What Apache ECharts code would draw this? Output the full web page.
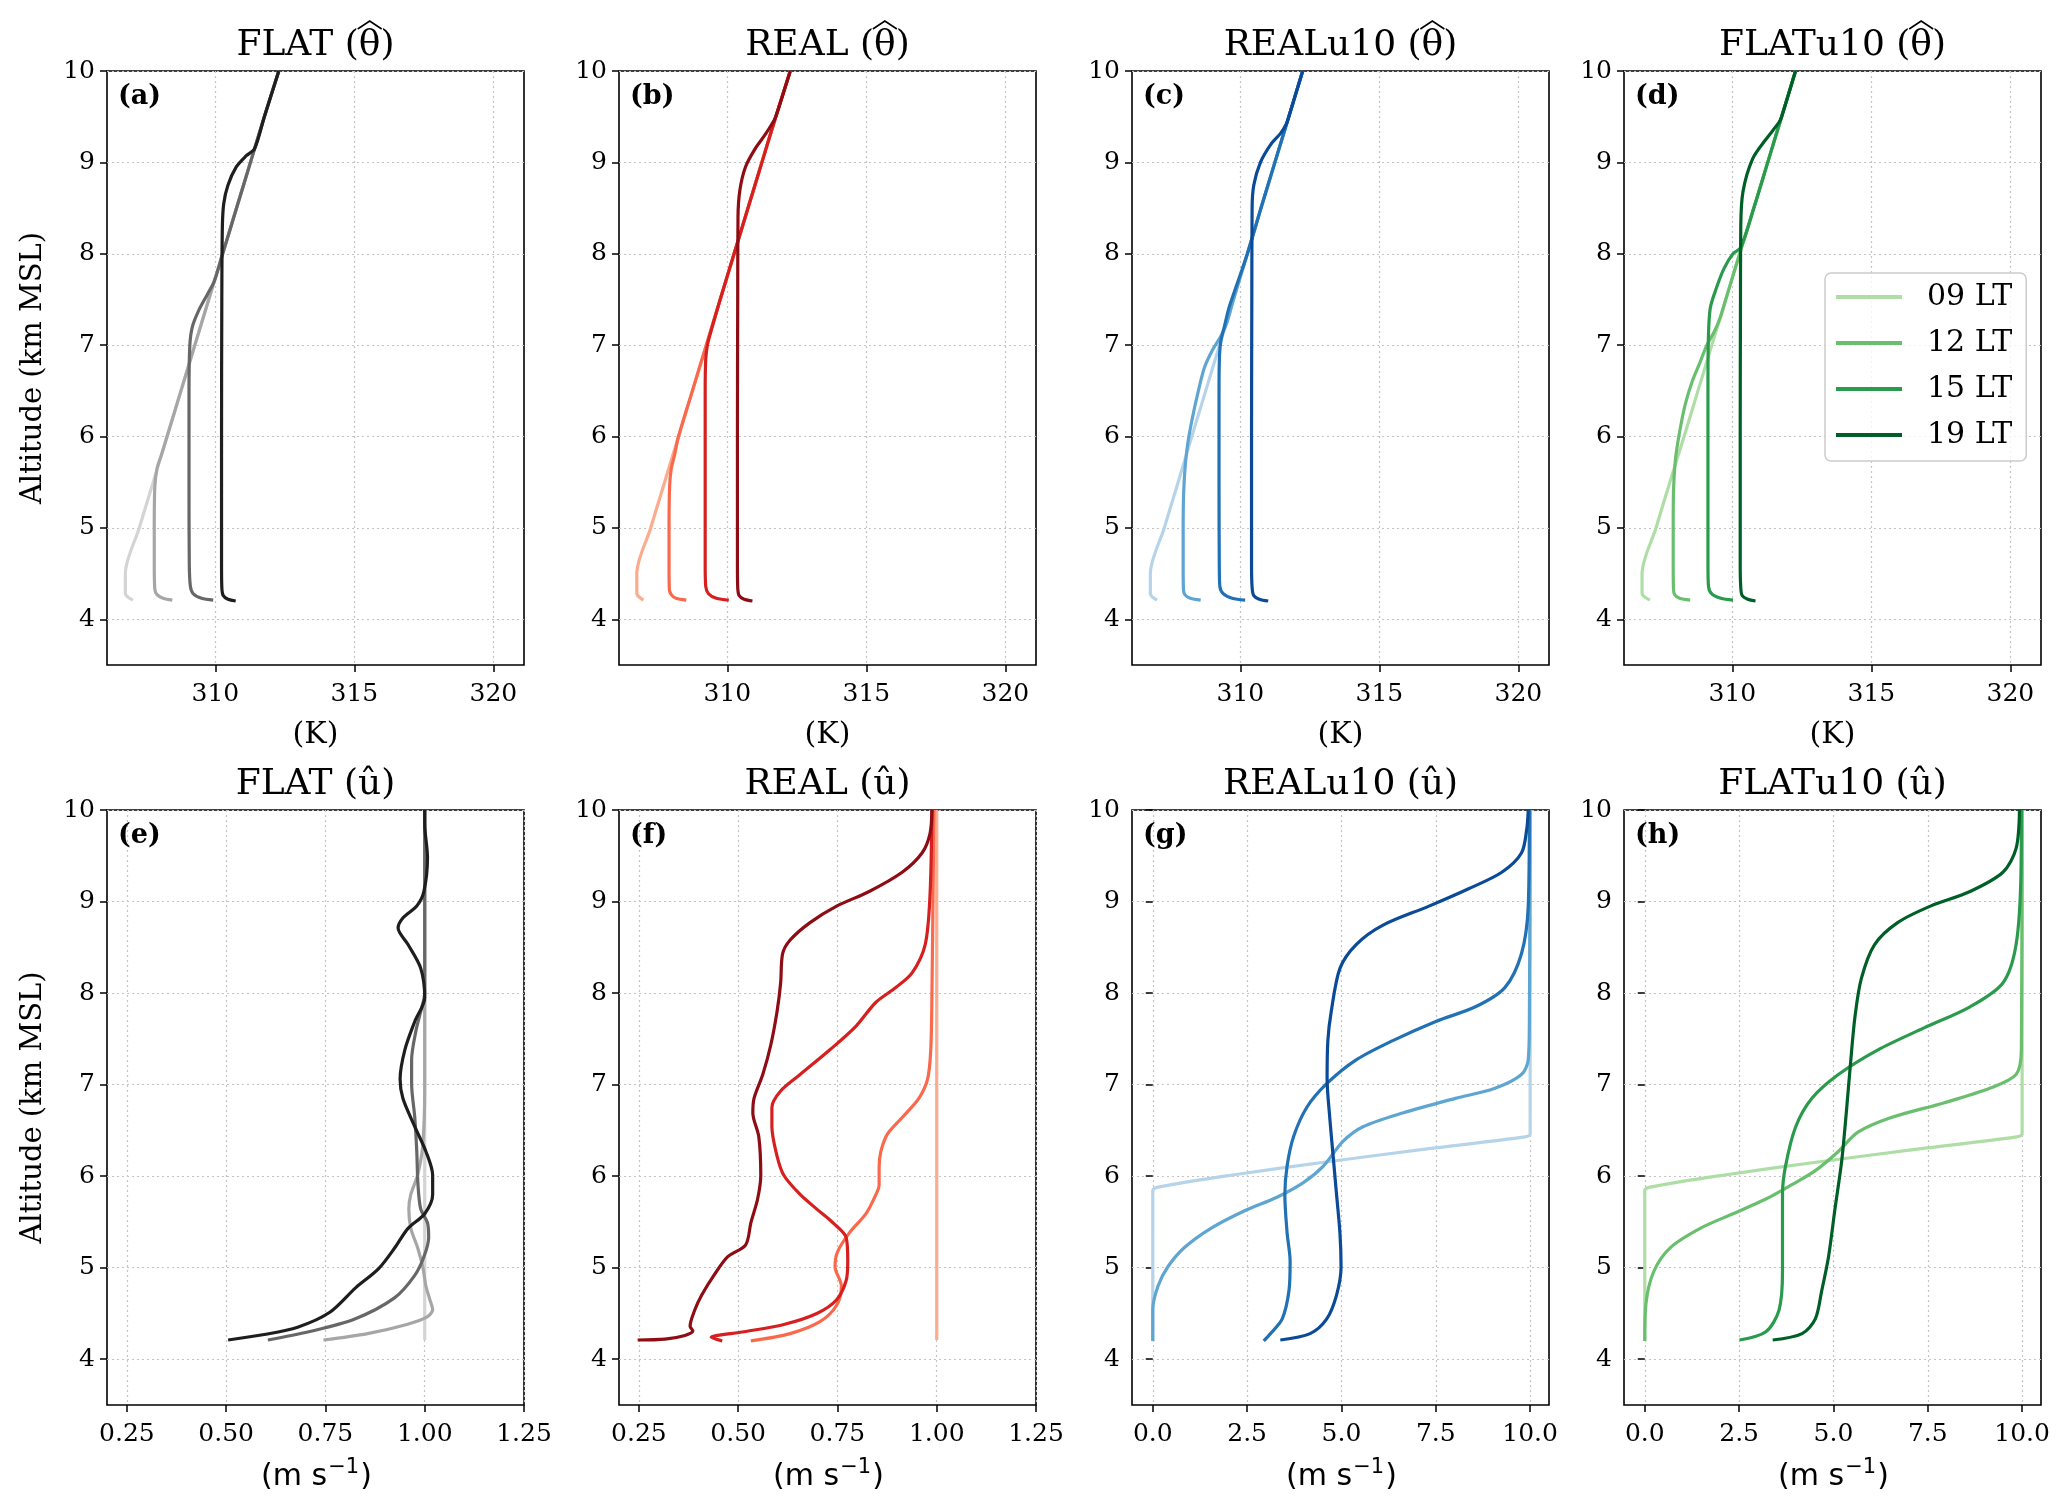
<!DOCTYPE html>
<html>
<head>
<meta charset="utf-8">
<script src="https://cdn.jsdelivr.net/npm/echarts@6/dist/echarts.min.js"></script>
<style>
html,body{margin:0;padding:0;background:#fff;}
#chart{width:2067px;height:1506px;}
</style>
</head>
<body>
<div id="chart"></div>
<script>
// ---------------- DATA ----------------
const timeLabels = ['09 LT', '12 LT', '15 LT', '19 LT'];
const caseNames = ['FLAT', 'REAL', 'REALu10', 'FLATu10'];
const topSymbol = 'θ';     // drawn with a hat: potential temperature perturbation
const bottomSymbol = 'û';
const panelLetters = ['(a)', '(b)', '(c)', '(d)', '(e)', '(f)', '(g)', '(h)'];
const altTicks = [4, 5, 6, 7, 8, 9, 10];
const thetaTicks = [310, 315, 320];
const uSmallTicks = [0.25, 0.5, 0.75, 1.0, 1.25];
const uLargeTicks = [0, 2.5, 5, 7.5, 10];

// (a) FLAT theta  [K, km]
const flatTh09 = [[307.03,4.21],[306.86,4.24],[306.76,4.28],[306.76,4.5],[307.26,5.0],[307.76,5.5],[308.26,6.0],[308.76,6.5],[309.26,7.0],[309.76,7.5],[310.26,8.0],[310.76,8.5],[311.26,9.0],[311.76,9.5],[312.28,10.0]];
const flatTh12 = [[308.45,4.21],[308.12,4.23],[307.9,4.27],[307.82,4.33],[307.8,4.6],[307.8,5.0],[307.82,5.45],[307.9,5.65],[308.06,5.8],[308.26,6.0],[308.76,6.5],[309.26,7.0],[309.76,7.5],[310.26,8.0],[310.76,8.5],[311.26,9.0],[311.76,9.5],[312.28,10.0]];
const flatTh15 = [[309.92,4.21],[309.5,4.23],[309.2,4.28],[309.1,4.36],[309.06,4.6],[309.05,5.5],[309.05,6.5],[309.08,7.0],[309.17,7.2],[309.4,7.38],[309.7,7.55],[309.96,7.7],[310.26,8.0],[310.76,8.5],[311.26,9.0],[311.76,9.5],[312.28,10.0]];
const flatTh19 = [[310.73,4.2],[310.45,4.22],[310.28,4.26],[310.23,4.35],[310.22,4.6],[310.22,6.0],[310.23,7.5],[310.25,8.3],[310.3,8.55],[310.45,8.75],[310.75,8.95],[311.1,9.07],[311.41,9.15],[311.76,9.5],[312.28,10.0]];
// (b) REAL theta
const realTh09 = [[306.98,4.21],[306.84,4.24],[306.74,4.28],[306.74,4.5],[307.24,5.0],[307.74,5.5],[308.24,6.0],[308.74,6.5],[309.24,7.0],[309.74,7.5],[310.24,8.0],[310.74,8.5],[311.24,9.0],[311.74,9.5],[312.26,10.0]];
const realTh12 = [[308.52,4.21],[308.15,4.23],[307.98,4.27],[307.91,4.33],[307.9,4.6],[307.9,5.0],[307.92,5.45],[307.98,5.65],[308.1,5.8],[308.24,6.0],[308.74,6.5],[309.24,7.0],[309.74,7.5],[310.24,8.0],[310.74,8.5],[311.24,9.0],[311.74,9.5],[312.26,10.0]];
const realTh15 = [[310.05,4.21],[309.6,4.23],[309.32,4.28],[309.22,4.36],[309.2,4.6],[309.2,5.5],[309.2,6.5],[309.22,6.85],[309.28,7.0],[309.36,7.1],[309.74,7.5],[310.24,8.0],[310.74,8.5],[311.24,9.0],[311.74,9.5],[312.26,10.0]];
const realTh19 = [[310.9,4.2],[310.6,4.22],[310.42,4.26],[310.37,4.35],[310.36,4.6],[310.36,6.0],[310.37,7.5],[310.38,8.4],[310.45,8.7],[310.65,8.95],[311.0,9.15],[311.35,9.3],[311.6,9.42],[311.74,9.5],[312.26,10.0]];
// (c) REALu10 theta
const ru10Th09 = [[307.0,4.21],[306.85,4.24],[306.76,4.28],[306.76,4.5],[307.26,5.0],[307.76,5.5],[308.25,6.0],[308.75,6.5],[309.25,7.0],[309.75,7.5],[310.25,8.0],[310.74,8.5],[311.24,9.0],[311.74,9.5],[312.24,10.0]];
const ru10Th12 = [[308.57,4.21],[308.2,4.23],[308.0,4.27],[307.95,4.33],[307.94,4.6],[307.94,5.0],[307.96,5.4],[308.02,5.7],[308.12,5.95],[308.27,6.2],[308.45,6.45],[308.7,6.75],[309.0,6.95],[309.3,7.1],[309.52,7.25],[309.75,7.5],[310.25,8.0],[310.74,8.5],[311.24,9.0],[311.74,9.5],[312.24,10.0]];
const ru10Th15 = [[310.17,4.21],[309.7,4.23],[309.38,4.28],[309.26,4.36],[309.24,4.6],[309.23,5.5],[309.23,6.5],[309.25,6.9],[309.3,7.05],[309.42,7.2],[309.58,7.4],[309.8,7.6],[310.05,7.82],[310.25,8.0],[310.74,8.5],[311.24,9.0],[311.74,9.5],[312.24,10.0]];
const ru10Th19 = [[311.0,4.2],[310.68,4.22],[310.48,4.26],[310.42,4.35],[310.4,4.6],[310.4,6.0],[310.41,7.5],[310.42,8.5],[310.48,8.75],[310.72,9.0],[311.1,9.2],[311.45,9.32],[311.65,9.42],[311.74,9.5],[312.24,10.0]];
// (d) FLATu10 theta
const fu10Th09 = [[307.03,4.21],[306.86,4.24],[306.75,4.28],[306.75,4.5],[307.25,5.0],[307.75,5.5],[308.26,6.0],[308.76,6.5],[309.26,7.0],[309.76,7.5],[310.26,8.0],[310.77,8.5],[311.27,9.0],[311.77,9.5],[312.27,10.0]];
const fu10Th12 = [[308.48,4.21],[308.1,4.23],[307.92,4.27],[307.88,4.33],[307.87,4.6],[307.87,5.0],[307.88,5.4],[307.95,5.75],[308.1,6.05],[308.3,6.35],[308.55,6.6],[308.82,6.8],[309.08,7.0],[309.35,7.15],[309.56,7.3],[309.76,7.5],[310.26,8.0],[310.77,8.5],[311.27,9.0],[311.77,9.5],[312.27,10.0]];
const fu10Th15 = [[310.02,4.21],[309.58,4.23],[309.25,4.28],[309.14,4.36],[309.12,4.6],[309.12,5.5],[309.12,6.5],[309.13,7.0],[309.2,7.4],[309.43,7.63],[309.7,7.84],[310.02,8.0],[310.3,8.07],[310.77,8.5],[311.27,9.0],[311.77,9.5],[312.27,10.0]];
const fu10Th19 = [[310.83,4.2],[310.55,4.22],[310.35,4.26],[310.3,4.35],[310.28,4.6],[310.28,6.0],[310.29,7.5],[310.3,8.3],[310.38,8.68],[310.73,9.04],[311.2,9.25],[311.68,9.44],[311.77,9.5],[312.27,10.0]];

// (e) FLAT u  [m/s, km]
const flatU09 = [[1.0,4.21],[1.0,10.0]];
const flatU12 = [[0.745,4.21],[0.856,4.28],[0.955,4.38],[1.005,4.46],[1.02,4.54],[1.013,4.65],[1.003,4.8],[0.995,5.01],[0.982,5.22],[0.965,5.43],[0.96,5.64],[0.965,5.8],[0.982,6.01],[0.995,6.33],[1.0,6.96],[1.0,10.0]];
const flatU15 = [[0.605,4.21],[0.708,4.3],[0.824,4.44],[0.924,4.67],[0.974,4.91],[0.998,5.12],[1.01,5.33],[1.007,5.49],[0.99,5.64],[0.983,5.91],[0.98,6.27],[0.975,6.64],[0.967,7.01],[0.967,7.27],[0.978,7.59],[0.99,7.8],[1.0,8.0],[1.0,9.05],[1.0,10.0]];
const flatU19 = [[0.505,4.21],[0.596,4.27],[0.68,4.35],[0.76,4.51],[0.826,4.78],[0.884,4.99],[0.925,5.22],[0.958,5.43],[1.0,5.59],[1.02,5.8],[1.02,6.01],[1.003,6.27],[0.975,6.54],[0.945,6.85],[0.938,7.06],[0.95,7.38],[0.975,7.69],[1.0,7.95],[0.99,8.27],[0.958,8.53],[0.933,8.71],[0.945,8.82],[0.98,8.95],[0.998,9.11],[1.007,9.48],[1.0,9.85],[1.0,10.0]];
// (f) REAL u
const realU09 = [[1.0,4.21],[1.0,10.0]];
const realU12 = [[0.532,4.2],[0.631,4.28],[0.706,4.41],[0.748,4.59],[0.76,4.8],[0.744,5.01],[0.75,5.17],[0.78,5.38],[0.822,5.59],[0.847,5.8],[0.855,5.9],[0.855,6.1],[0.872,6.43],[0.913,6.64],[0.955,6.85],[0.977,7.06],[0.985,7.38],[0.988,8.0],[0.993,10.0]];
const realU15 = [[0.46,4.2],[0.432,4.24],[0.515,4.3],[0.615,4.38],[0.698,4.5],[0.748,4.65],[0.772,4.86],[0.776,5.07],[0.772,5.33],[0.739,5.49],[0.698,5.64],[0.656,5.8],[0.615,6.01],[0.598,6.22],[0.585,6.54],[0.585,6.75],[0.607,6.93],[0.656,7.11],[0.731,7.38],[0.797,7.64],[0.847,7.9],[0.897,8.06],[0.938,8.22],[0.971,8.53],[0.983,9.06],[0.988,10.0]];
const realU19 = [[0.247,4.21],[0.316,4.22],[0.366,4.26],[0.386,4.31],[0.379,4.36],[0.391,4.54],[0.408,4.7],[0.441,4.93],[0.474,5.12],[0.519,5.25],[0.532,5.49],[0.549,5.75],[0.557,6.01],[0.552,6.43],[0.537,6.69],[0.54,6.85],[0.562,7.11],[0.582,7.43],[0.598,7.8],[0.607,8.11],[0.612,8.43],[0.631,8.58],[0.681,8.77],[0.748,8.95],[0.83,9.11],[0.913,9.32],[0.963,9.53],[0.983,9.74],[0.988,10.0]];
// (g) REALu10 u
const ru10U09 = [[0.0,4.2],[0.0,5.84],[0.14,5.88],[2.07,6.01],[4.69,6.16],[7.32,6.3],[9.86,6.43],[10.0,6.46],[10.0,10.0]];
const ru10U12 = [[0.0,4.2],[0.0,4.54],[0.14,4.8],[0.4,5.01],[0.84,5.22],[1.54,5.43],[2.42,5.62],[3.29,5.77],[3.99,5.93],[4.52,6.11],[5.04,6.38],[5.57,6.54],[6.62,6.69],[8.02,6.85],[9.07,6.96],[9.77,7.11],[9.95,7.27],[9.98,7.69],[10.0,10.0]];
const ru10U15 = [[2.94,4.2],[3.12,4.28],[3.43,4.44],[3.61,4.75],[3.64,5.07],[3.56,5.38],[3.5,5.8],[3.56,6.11],[3.73,6.43],[4.08,6.75],[4.61,7.01],[5.39,7.27],[6.36,7.48],[7.5,7.69],[8.55,7.85],[9.33,8.06],[9.77,8.43],[9.95,8.95],[9.98,10.0]];
const ru10U19 = [[3.38,4.21],[4.17,4.28],[4.61,4.44],[4.87,4.7],[4.99,5.01],[4.96,5.38],[4.87,5.8],[4.78,6.22],[4.69,6.64],[4.62,7.06],[4.64,7.48],[4.73,7.8],[4.96,8.27],[5.39,8.53],[6.09,8.74],[7.32,8.95],[8.37,9.14],[9.25,9.32],[9.77,9.53],[9.91,9.79],[9.95,10.0]];
// (h) FLATu10 u
const fu10U09 = [[0.0,4.2],[0.0,5.84],[0.14,5.88],[2.07,6.01],[4.69,6.16],[7.32,6.3],[9.86,6.43],[10.0,6.46],[10.0,10.0]];
const fu10U12 = [[0.0,4.2],[0.03,4.6],[0.24,4.96],[0.68,5.22],[1.47,5.43],[2.34,5.59],[3.21,5.75],[3.91,5.91],[4.52,6.06],[5.13,6.27],[5.65,6.48],[6.53,6.64],[7.92,6.8],[9.14,6.96],[9.84,7.11],[9.98,7.38],[10.0,10.0]];
const fu10U15 = [[2.51,4.21],[3.21,4.3],[3.56,4.54],[3.65,4.96],[3.65,5.8],[3.73,6.11],[4.0,6.54],[4.43,6.85],[5.13,7.11],[6.18,7.38],[7.4,7.62],[8.62,7.85],[9.49,8.11],[9.84,8.53],[9.97,9.32],[9.98,10.0]];
const fu10U19 = [[3.39,4.21],[4.17,4.28],[4.52,4.44],[4.69,4.75],[4.87,5.12],[5.04,5.64],[5.22,6.17],[5.34,6.69],[5.45,7.22],[5.57,7.74],[5.74,8.16],[6.09,8.53],[6.7,8.77],[7.57,8.95],[8.62,9.11],[9.49,9.32],[9.84,9.58],[9.93,10.0]];

// ---------------- STYLE / LAYOUT ----------------
const greys  = ['#d4d4d4', '#a6a6a6', '#676767', '#1e1e1e'];
const reds   = ['#fcab8f', '#f9694c', '#d6201f', '#8e0c13'];
const blues  = ['#b6d4e9', '#5ea5d1', '#2171b5', '#0a4a97'];
const greens = ['#aedea6', '#69bf6e', '#2a9a4d', '#005f26'];

const SERIF = 'DejaVu Serif';
const SANS = 'DejaVu Sans';
const colLeft = [107, 619, 1132, 1624];
const colWidth = 417;
const rowTop = [71, 810];
const rowHeight = [594, 595];
const titleY = [46, 785];

const measureCtx = document.createElement('canvas').getContext('2d');
function textWidth(str, font) { measureCtx.font = font; return measureCtx.measureText(str).width; }

const panels = [
  {curves: [flatTh09, flatTh12, flatTh15, flatTh19], colors: greys,  row: 0, col: 0, xMin: 306.1, xMax: 321.1, ticks: thetaTicks, fmt: v => String(v)},
  {curves: [realTh09, realTh12, realTh15, realTh19], colors: reds,   row: 0, col: 1, xMin: 306.1, xMax: 321.1, ticks: thetaTicks, fmt: v => String(v)},
  {curves: [ru10Th09, ru10Th12, ru10Th15, ru10Th19], colors: blues,  row: 0, col: 2, xMin: 306.1, xMax: 321.1, ticks: thetaTicks, fmt: v => String(v)},
  {curves: [fu10Th09, fu10Th12, fu10Th15, fu10Th19], colors: greens, row: 0, col: 3, xMin: 306.1, xMax: 321.1, ticks: thetaTicks, fmt: v => String(v), legend: true},
  {curves: [flatU09, flatU12, flatU15, flatU19], colors: greys,  row: 1, col: 0, xMin: 0.2, xMax: 1.25, ticks: uSmallTicks, fmt: v => v.toFixed(2)},
  {curves: [realU09, realU12, realU15, realU19], colors: reds,   row: 1, col: 1, xMin: 0.2, xMax: 1.25, ticks: uSmallTicks, fmt: v => v.toFixed(2)},
  {curves: [ru10U09, ru10U12, ru10U15, ru10U19], colors: blues,  row: 1, col: 2, xMin: -0.55, xMax: 10.5, ticks: uLargeTicks, fmt: v => v.toFixed(1)},
  {curves: [fu10U09, fu10U12, fu10U15, fu10U19], colors: greens, row: 1, col: 3, xMin: -0.55, xMax: 10.5, ticks: uLargeTicks, fmt: v => v.toFixed(1)}
];

const grids = [], xAxes = [], yAxes = [], series = [], graphics = [];
const gridLine = {show: true, lineStyle: {type: [2, 3], color: '#c4c4c4', width: 1.2}};
const tickStyle = {show: true, inside: false, length: 7, lineStyle: {color: '#000', width: 1.5}};
const titleFont = '36px "' + SERIF + '"';
const unitFont = '30px "' + SANS + '"';
const supFont = '21px "' + SANS + '"';

panels.forEach((p, i) => {
  const left = colLeft[p.col], top = rowTop[p.row], h = rowHeight[p.row];
  grids.push({left: left, top: top, width: colWidth, height: h, show: true,
    borderColor: '#000', borderWidth: 1.6, backgroundColor: 'transparent', containLabel: false});
  xAxes.push({type: 'value', gridIndex: i, min: p.xMin, max: p.xMax,
    axisLine: {show: false},
    axisTick: Object.assign({customValues: p.ticks}, tickStyle),
    axisLabel: {customValues: p.ticks, formatter: p.fmt, fontFamily: SERIF, fontSize: 25, color: '#000', margin: 17},
    splitLine: gridLine});
  yAxes.push({type: 'value', gridIndex: i, min: 3.5, max: 10,
    axisLine: {show: false},
    axisTick: Object.assign({customValues: altTicks}, tickStyle),
    axisLabel: {customValues: altTicks, formatter: v => String(v), fontFamily: SERIF, fontSize: 25, color: '#000', margin: 12},
    splitLine: gridLine});
  p.curves.forEach((c, k) => {
    series.push({
      name: p.legend ? timeLabels[k] : panelLetters[i] + ' ' + timeLabels[k],
      type: 'line', xAxisIndex: i, yAxisIndex: i, data: c,
      showSymbol: false, symbol: 'none', smooth: 0.3, clip: true,
      itemStyle: {color: p.colors[k]},
      lineStyle: {color: p.colors[k], width: 3.2},
      z: 3 + k, animation: false
    });
  });
  const cx = left + colWidth / 2;
  const ty = titleY[p.row];
  // title
  const sym = p.row === 0 ? topSymbol : bottomSymbol;
  const pre = caseNames[p.col] + ' (';
  const full = pre + sym + ')';
  graphics.push({type: 'text', x: cx, y: ty,
    style: {text: full, font: titleFont, fill: '#000', textAlign: 'center', textVerticalAlign: 'middle'}});
  if (p.row === 0) {
    const wFull = textWidth(full, titleFont), wPre = textWidth(pre, titleFont), wSym = textWidth(sym, titleFont);
    const hx = cx - wFull / 2 + wPre + wSym / 2;
    graphics.push({type: 'polyline', shape: {points: [[hx - 12, ty - 17], [hx, ty - 25], [hx + 12, ty - 17]]},
      style: {stroke: '#000', lineWidth: 1.6, fill: null}});
  }
  // panel letter
  graphics.push({type: 'text', x: left + 11, y: top + 26,
    style: {text: panelLetters[i], font: 'bold 27px "' + SERIF + '"', fill: '#000', textAlign: 'left', textVerticalAlign: 'middle'}, z: 10});
  // axis unit label
  if (p.row === 0) {
    graphics.push({type: 'text', x: cx, y: 735,
      style: {text: '(K)', font: '30px "' + SERIF + '"', fill: '#000', textAlign: 'center', textVerticalAlign: 'middle'}});
  } else {
    const a = '(m s', b = '−1', c = ')';
    const wa = textWidth(a, unitFont), wb = textWidth(b, supFont), wc = textWidth(c, unitFont);
    const x0 = cx - (wa + wb + wc) / 2, uy = 1477;
    graphics.push({type: 'text', x: x0, y: uy, style: {text: a, font: unitFont, fill: '#000', textAlign: 'left', textVerticalAlign: 'middle'}});
    graphics.push({type: 'text', x: x0 + wa + 1, y: uy - 9, style: {text: b, font: supFont, fill: '#000', textAlign: 'left', textVerticalAlign: 'middle'}});
    graphics.push({type: 'text', x: x0 + wa + wb + 2, y: uy, style: {text: c, font: unitFont, fill: '#000', textAlign: 'left', textVerticalAlign: 'middle'}});
  }
  if (p.col === 0) {
    graphics.push({type: 'text', x: 33, y: top + h / 2, rotation: Math.PI / 2,
      style: {text: 'Altitude (km MSL)', font: '29px "' + SERIF + '"', fill: '#000', textAlign: 'center', textVerticalAlign: 'middle'}});
  }
});

const chart = echarts.init(document.getElementById('chart'), null, {renderer: 'canvas'});
chart.setOption({
  backgroundColor: '#fff',
  animation: false,
  grid: grids, xAxis: xAxes, yAxis: yAxes, series: series, graphic: graphics,
  legend: {show: true, left: 1825, top: 273, orient: 'vertical', data: timeLabels,
    icon: 'rect', itemWidth: 66, itemHeight: 4, itemGap: 10, selectedMode: false,
    textStyle: {fontFamily: SERIF, fontSize: 30, color: '#000', lineHeight: 36, padding: [0, 0, 0, 20]},
    backgroundColor: 'rgba(255,255,255,0.8)', borderColor: '#cccccc', borderWidth: 1.5, borderRadius: 6,
    padding: [6, 14, 8, 11]}
});
</script>
</body>
</html>
